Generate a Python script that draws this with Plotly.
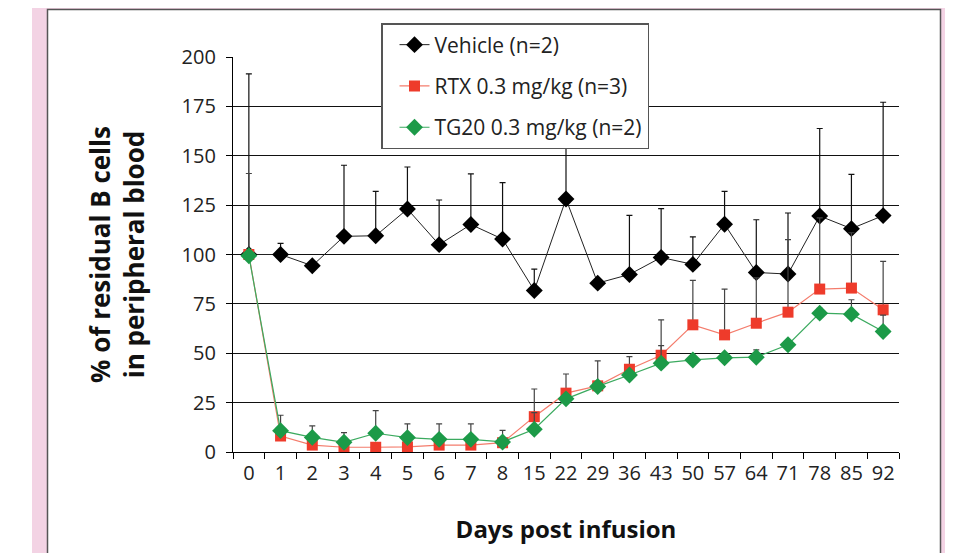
import plotly.graph_objects as go

days = ["0", "1", "2", "3", "4", "5", "6", "7", "8", "15", "22", "29", "36", "43",
        "50", "57", "64", "71", "78", "85", "92"]

vehicle = [100, 100, 94.3, 109.2, 109.5, 123, 105, 115.2, 107.8, 81.8, 128.1, 85.5,
           89.9, 98.5, 95, 115.3, 90.9, 90.1, 119.5, 113.1, 119.7]
vehicle_err = [91.5, 5.6, 0, 36, 22.5, 21.3, 22.6, 25.6, 28.6, 10.8, 40, 0,
               29.9, 24.7, 13.9, 16.7, 26.7, 30.9, 44.3, 27.5, 57.4]

rtx = [100, 8.1, 3.5, 2.4, 2.4, 2.6, 3.5, 3.5, 4.7, 17.9, 29.8, 33.5,
       41.9, 49, 64.4, 59.3, 65.2, 70.8, 82.5, 83, 72]
rtx_err = [41, 0, 0, 0, 0, 0, 0, 0, 0, 14, 9.7, 12.6,
           6.4, 17.9, 22.5, 23.2, 23, 36.7, 36, 28, 24.5]

tg20 = [99.4, 10.8, 7.4, 4.9, 9.5, 7.3, 6.4, 6.4, 5.1, 11.5, 26.9, 33.2,
        39, 45, 46.6, 47.7, 48, 54.3, 70.3, 69.8, 61]
tg20_err = [0, 7.8, 5.8, 4.9, 11.4, 6.9, 7.8, 7.8, 5.9, 8.4, 0, 0,
            0, 8.9, 0, 0, 3.7, 0, 2.4, 7.3, 8.3]

names = ["Vehicle (n=2)", "RTX 0.3 mg/kg (n=3)", "TG20 0.3 mg/kg (n=2)"]
yticks = [0, 25, 50, 75, 100, 125, 150, 175, 200]

FONT = "Open Sans, sans-serif"

fig = go.Figure()

fig.add_trace(go.Scatter(
    x=days, y=vehicle, name=names[0], mode="lines+markers", legendgroup="a",
    line=dict(color="#222222", width=1),
    marker=dict(symbol="diamond", size=13, color="black"),
    error_y=dict(type="data", array=vehicle_err, arrayminus=[0] * len(days),
                 symmetric=False, color="#111111", thickness=1.2, width=3),
))
fig.add_trace(go.Scatter(
    x=days, y=rtx, name=names[1], mode="lines+markers", legendgroup="b",
    line=dict(color="#F47C6C", width=1.2),
    marker=dict(symbol="square", size=11, color="#EE3B2B"),
    error_y=dict(type="data", array=rtx_err, arrayminus=[0] * len(days),
                 symmetric=False, color="#444444", thickness=1.2, width=3),
))
fig.add_trace(go.Scatter(
    x=days, y=tg20, name=names[2], mode="lines+markers", legendgroup="c",
    line=dict(color="#3BAA5F", width=1.2),
    marker=dict(symbol="diamond", size=13, color="#1C9A48"),
    error_y=dict(type="data", array=tg20_err, arrayminus=[0] * len(days),
                 symmetric=False, color="#444444", thickness=1.2, width=3),
))

# the page body adds an 8px offset; the figure is laid out in screen pixels minus 8
OFF = 8
W, H = 953 - OFF, 553 - OFF
L, T = 233 - OFF, 57 - OFF
R = W - (899 - OFF)
B = H - (452 - OFF)
pw, ph = W - L - R, H - T - B


def px(x):
    return (x - OFF - L) / pw


def py(y):
    return (H - B - (y - OFF)) / ph


shapes = [
    dict(type="rect", xref="paper", yref="paper", x0=px(32), x1=px(960), y0=py(0), y1=py(560),
         fillcolor="#F3D3E4", line=dict(width=0), layer="below"),
    dict(type="rect", xref="paper", yref="paper", x0=px(47.5), x1=px(940.5), y0=py(9.5), y1=py(570),
         fillcolor="white", line=dict(color="#555555", width=1.5), layer="below"),
]

fig.update_layout(
    width=W, height=H,
    margin=dict(l=L, r=R, t=T, b=B, autoexpand=False),
    paper_bgcolor="white", plot_bgcolor="rgba(0,0,0,0)",
    shapes=shapes,
    font=dict(family=FONT, color="#222222"),
    showlegend=True,
    legend=dict(
        x=px(381), y=py(23), xanchor="left", yanchor="top",
        bgcolor="white", bordercolor="#555555", borderwidth=1.5,
        font=dict(family=FONT, size=21, color="#222222"),
        tracegroupgap=11, traceorder="grouped", indentation=12,
    ),
    xaxis=dict(
        type="category", range=[-0.5, 20.5], showgrid=False, automargin=False,
        showline=True, linecolor="black", linewidth=1.2, tickangle=0,
        ticks="outside", tickson="boundaries", ticklen=6, tickcolor="black", tickwidth=1.2,
        ticklabelstandoff=3,
        tickfont=dict(family=FONT, size=20, color="#222222"),
        title=dict(text="<b>Days post infusion</b>", font=dict(family=FONT, size=24, color="#111111"),
                   standoff=36),
    ),
    yaxis=dict(
        range=[0, 200], tickvals=yticks, showgrid=True, gridcolor="#111111", gridwidth=1.2,
        showline=True, linecolor="black", linewidth=1.2, zeroline=False, automargin=False,
        ticks="outside", ticklen=6, tickcolor="black", tickwidth=1.2, ticklabelstandoff=6,
        tickfont=dict(family=FONT, size=20, color="#222222"),
        title=dict(text="<b>% of residual B cells<br>in peripheral blood</b>",
                   font=dict(family=FONT, size=26, color="#111111"), standoff=29),
    ),
)

fig.write_html("out.html")
